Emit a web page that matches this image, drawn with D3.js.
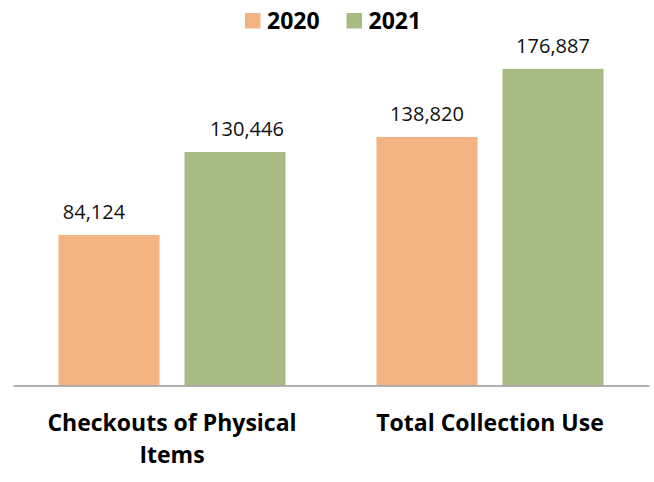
<!DOCTYPE html>
<html>
<head>
<meta charset="utf-8">
<script src="https://cdn.jsdelivr.net/npm/d3@7"></script>
<style>
  body { margin: 0; background: #fff; }
  text { font-family: "Open Sans", Lato, sans-serif; }
</style>
</head>
<body>
<div id="chart"></div>
<script>
// data
var categories = ["Checkouts of Physical Items", "Total Collection Use"];
var years = ["2020", "2021"];
var values2020 = [84124, 138820];
var values2021 = [130446, 176887];
var colors = ["#F3B383", "#A9BB85"];
// small manual nudges of the value labels (as in the original)
var labelNudge = [[-15, 12], [0, 0]];

var width = 654, height = 482;

var svg = d3.select("#chart").append("svg")
    .attr("width", width)
    .attr("height", height);

var rows = categories.map(function(c, i) {
    return { cat: c, vals: [values2020[i], values2021[i]], idx: i };
});

// scales
var x0 = d3.scaleBand()
    .domain(categories)
    .range([13, 649])
    .paddingInner(0.286)
    .paddingOuter(0.143);

var x1 = d3.scaleBand()
    .domain(years)
    .range([0, x0.bandwidth()])
    .paddingInner(0.198)
    .paddingOuter(0);

var y = d3.scaleLinear()
    .domain([0, 200000])
    .range([385.5, 27.5]);

// bars
var groups = svg.selectAll("g.cat")
    .data(rows)
    .enter().append("g")
    .attr("class", "cat")
    .attr("transform", function(d) { return "translate(" + x0(d.cat) + ",0)"; });

groups.selectAll("rect")
    .data(function(d) { return d.vals.map(function(v, j) { return { v: v, j: j, i: d.idx }; }); })
    .enter().append("rect")
    .attr("x", function(d) { return x1(years[d.j]); })
    .attr("width", x1.bandwidth())
    .attr("y", function(d) { return y(d.v); })
    .attr("height", function(d) { return y(0) - y(d.v); })
    .attr("fill", function(d) { return colors[d.j]; });

// value labels
groups.selectAll("text.val")
    .data(function(d) { return d.vals.map(function(v, j) { return { v: v, j: j, i: d.idx }; }); })
    .enter().append("text")
    .attr("class", "val")
    .attr("x", function(d) { return x1(years[d.j]) + x1.bandwidth() / 2 + labelNudge[d.i][d.j]; })
    .attr("y", function(d) { return y(d.v) - 16; })
    .attr("text-anchor", "middle")
    .style("font-size", "20px")
    .style("fill", "#111")
    .text(function(d) { return d3.format(",")(d.v); });

// x axis line
var xAxis = svg.append("g")
    .attr("transform", "translate(0," + y(0) + ")")
    .call(d3.axisBottom(x0).tickSize(0).tickFormat(""));
xAxis.select(".domain")
    .attr("stroke", "#999")
    .attr("stroke-width", 1.5);

// category labels
svg.selectAll("text.cat")
    .data(categories)
    .enter().append("text")
    .attr("class", "cat")
    .attr("x", function(d) { return x0(d) + x0.bandwidth() / 2; })
    .attr("y", 431)
    .attr("text-anchor", "middle")
    .style("font-size", "23px")
    .style("font-weight", "bold")
    .style("fill", "#000")
    .each(function(d) {
        var el = d3.select(this);
        var words = d.split(" ");
        var line = [], lines = [];
        var tmp = el.append("tspan");
        words.forEach(function(w) {
            line.push(w);
            tmp.text(line.join(" "));
            if (tmp.node().getComputedTextLength() > 270 && line.length > 1) {
                line.pop();
                lines.push(line.join(" "));
                line = [w];
            }
        });
        lines.push(line.join(" "));
        tmp.remove();
        lines.forEach(function(l, k) {
            el.append("tspan")
                .attr("x", x0(d) + x0.bandwidth() / 2)
                .attr("dy", k === 0 ? 0 : 32)
                .text(l);
        });
    });

// legend
var legend = svg.append("g");
var legX = [245, 346.5];
years.forEach(function(yr, j) {
    legend.append("rect")
        .attr("x", legX[j])
        .attr("y", 13)
        .attr("width", 15.5)
        .attr("height", 15.5)
        .attr("fill", colors[j]);
    legend.append("text")
        .attr("x", legX[j] + 22)
        .attr("y", 29)
        .style("font-size", "23px")
        .style("font-weight", "bold")
        .style("fill", "#000")
        .text(yr);
});
</script>
</body>
</html>
